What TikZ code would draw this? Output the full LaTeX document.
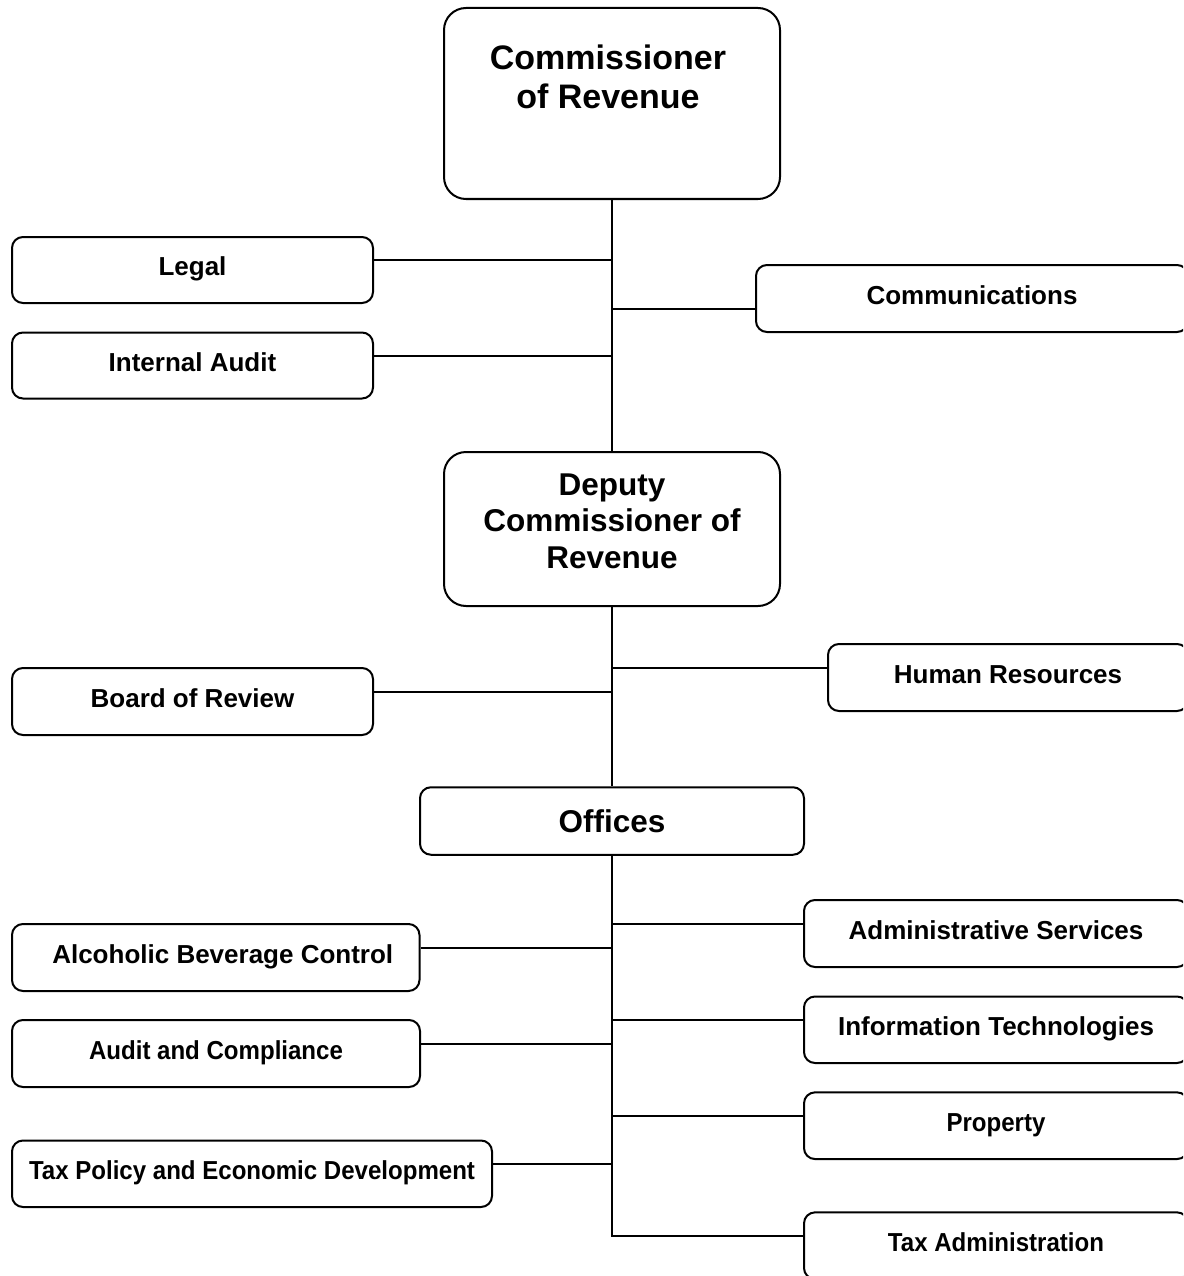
\documentclass[tikz,border=0pt]{standalone}
\usepackage{fontspec}
\usepackage{graphicx}
\setmainfont{Liberation Sans}
\begin{document}
\begin{tikzpicture}[x=1pt,y=-1pt,
  box/.style={draw, line width=2pt, rounded corners=11pt, inner sep=0pt, fill=white},
  bigbox/.style={box, rounded corners=22pt},
  lbl/.style={font=\fontsize{26}{30}\selectfont\bfseries, text height=20pt, text depth=9pt},
  bigtxt/.style={font=\fontsize{34}{38}\selectfont\bfseries, anchor=base, inner sep=0pt},
  midtxt/.style={font=\fontsize{31.5}{36}\selectfont\bfseries, anchor=base, inner sep=0pt},
  conn/.style={line width=2pt}
]
\useasboundingbox (0,0) rectangle (1183,1276);
\fill[white] (0,0) rectangle (1183,1276);
\begin{scope}
\clip (0,0) rectangle (1183,1276);

% main boxes
\node[bigbox, minimum width=336pt, minimum height=191pt] (comm) at (612,103.5) {};
\node[bigtxt] (commA) at (608,70) {Commissioner};
\node[bigtxt] (commB) at (608,108.3) {of Revenue};

\node[bigbox, minimum width=336pt, minimum height=154pt] (dep) at (612,529) {};
\node[midtxt] (depA) at (612,495) {Deputy};
\node[midtxt] (depB) at (612,531.7) {Commissioner of};
\node[midtxt] (depC) at (612,568.3) {Revenue};

\node[box, minimum width=384pt, minimum height=67.5pt, font=\fontsize{31.5}{36}\selectfont\bfseries, text height=22.5pt, text depth=0pt] (off) at (612,821) {Offices};

% left boxes
\node[box, lbl, minimum width=361pt, minimum height=66pt] (legal) at (192.5,270) {Legal};
\node[box, lbl, minimum width=361pt, minimum height=66pt] (iaudit) at (192.5,365.5) {Internal Audit};
\node[box, lbl, minimum width=361pt, minimum height=67pt] (board) at (192.5,701.5) {Board of Review};
\node[box, lbl, minimum width=407.5pt, minimum height=67pt] (abc) at (215.75,957.5) {\hspace*{14pt}Alcoholic Beverage Control};
\node[box, lbl, minimum width=408pt, minimum height=67pt] (auditc) at (216,1053.5) {\scalebox{0.925}[1]{Audit and Compliance}};
\node[box, lbl, minimum width=480pt, minimum height=66.5pt] (taxpol) at (252,1173.75) {\scalebox{0.925}[1]{Tax Policy and Economic Development}};

% right boxes
\node[box, lbl, minimum width=432pt, minimum height=67pt] (commun) at (972,298.5) {Communications};
\node[box, lbl, minimum width=360pt, minimum height=67pt] (hr) at (1008,677.5) {Human Resources};
\node[box, lbl, minimum width=384pt, minimum height=67pt] (admin) at (996,933.5) {Administrative Services};
\node[box, lbl, minimum width=384pt, minimum height=66.5pt] (it) at (996,1029.75) {Information Technologies};
\node[box, lbl, minimum width=384pt, minimum height=66.7pt] (prop) at (996,1125.7) {\scalebox{0.925}[1]{Property}};
\node[box, lbl, minimum width=384pt, minimum height=66.7pt] (taxadm) at (996,1245.7) {\scalebox{0.925}[1]{Tax Administration}};

% spine
\draw[conn] (comm.south) -- (dep.north);
\draw[conn] (dep.south) -- (off.north);
\draw[conn] (off.south) |- ([yshift=9.7pt]taxadm.west);

% branches
\draw[conn] ([yshift=10pt]legal.east) -- ([yshift=10pt]legal.east -| comm.south);
\draw[conn] ([yshift=9.5pt]iaudit.east) -- ([yshift=9.5pt]iaudit.east -| comm.south);
\draw[conn] ([yshift=-10pt]commun.west) -- ([yshift=-10pt]commun.west -| comm.south);
\draw[conn] ([yshift=9.5pt]hr.west) -- ([yshift=9.5pt]hr.west -| dep.south);
\draw[conn] ([yshift=10pt]board.east) -- ([yshift=10pt]board.east -| dep.south);
\draw[conn] ([yshift=9.5pt]admin.west) -- ([yshift=9.5pt]admin.west -| off.south);
\draw[conn] ([yshift=9.5pt]abc.east) -- ([yshift=9.5pt]abc.east -| off.south);
\draw[conn] ([yshift=9.75pt]it.west) -- ([yshift=9.75pt]it.west -| off.south);
\draw[conn] ([yshift=9.5pt]auditc.east) -- ([yshift=9.5pt]auditc.east -| off.south);
\draw[conn] ([yshift=9.7pt]prop.west) -- ([yshift=9.7pt]prop.west -| off.south);
\draw[conn] ([yshift=9.75pt]taxpol.east) -- ([yshift=9.75pt]taxpol.east -| off.south);
\end{scope}
\end{tikzpicture}
\end{document}
